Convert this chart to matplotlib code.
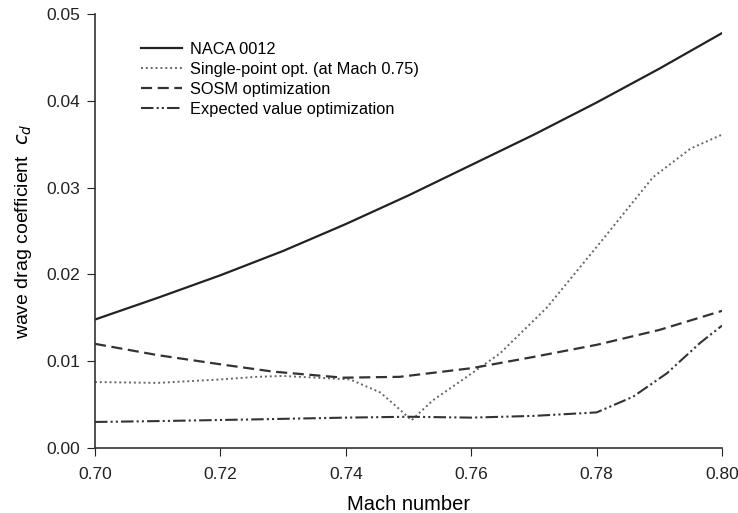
import matplotlib
matplotlib.use("Agg")
import matplotlib.pyplot as plt
import numpy as np

plt.rcParams['font.family'] = ['Liberation Sans', 'DejaVu Sans']

mach_naca = [0.70, 0.71, 0.72, 0.73, 0.74, 0.75, 0.76, 0.77, 0.78, 0.79, 0.80]
cd_naca = [0.0148, 0.0173, 0.0199, 0.0227, 0.0258, 0.0291, 0.0326, 0.0361, 0.0398, 0.0437, 0.0478]

mach_single = [0.70, 0.71, 0.72, 0.7258, 0.73, 0.7407, 0.7455, 0.7482, 0.7505, 0.7539, 0.7593,
               0.7646, 0.7721, 0.7805, 0.7890, 0.795, 0.80]
cd_single = [0.0076, 0.0075, 0.0079, 0.0082, 0.0083, 0.0079, 0.0064, 0.0047, 0.0032, 0.0055, 0.0082,
             0.0109, 0.0162, 0.0236, 0.0312, 0.0345, 0.0361]

mach_sosm = [0.70, 0.71, 0.7204, 0.7284, 0.7396, 0.7486, 0.7601, 0.77, 0.7801, 0.79, 0.80]
cd_sosm = [0.0120, 0.0107, 0.0096, 0.0088, 0.0081, 0.0082, 0.0092, 0.0105, 0.0119, 0.0136, 0.0158]

mach_exp = [0.70, 0.71, 0.7258, 0.74, 0.75, 0.76, 0.77, 0.78, 0.7858, 0.7912, 0.7965, 0.80]
cd_exp = [0.0030, 0.0031, 0.0033, 0.0035, 0.0036, 0.0035, 0.0037, 0.0041, 0.0059, 0.0086, 0.0121, 0.0141]

labels = ["NACA 0012", "Single-point opt. (at Mach 0.75)", "SOSM optimization",
          "Expected value optimization"]

fig = plt.figure(figsize=(7.38, 5.13), dpi=100)
ax = fig.add_axes([0.1287, 0.1267, 0.8496, 0.846])

ax.plot(mach_naca, cd_naca, color='#222222', lw=1.6, ls='-', label=labels[0])
ax.plot(mach_single, cd_single, color='#666666', lw=1.4, ls=(0, (1, 1.5)), label=labels[1])
ax.plot(mach_sosm, cd_sosm, color='#333333', lw=1.6, ls=(0, (5, 2.5)), label=labels[2])
ax.plot(mach_exp, cd_exp, color='#333333', lw=1.5, ls=(0, (6, 1.5, 1, 1.5, 1, 1.5)), label=labels[3])

ax.set_xlim(0.70, 0.80)
ax.set_ylim(0.0, 0.05)
ax.set_xticks([0.70, 0.72, 0.74, 0.76, 0.78, 0.80])
ax.set_xticklabels(["0.70", "0.72", "0.74", "0.76", "0.78", "0.80"])
ax.set_yticks([0.00, 0.01, 0.02, 0.03, 0.04, 0.05])
ax.set_yticklabels(["0.00", "0.01", "0.02", "0.03", "0.04", "0.05"])
ax.tick_params(direction='out', length=6, labelsize=12.5, colors='#222222')
ax.tick_params(axis='x', pad=8)
ax.tick_params(axis='y', pad=4.5)
for s in ['top', 'right']:
    ax.spines[s].set_visible(False)
for s in ['left', 'bottom']:
    ax.spines[s].set_color('#333333')
    ax.spines[s].set_linewidth(1.2)

ax.set_xlabel("Mach number", fontsize=14.5, labelpad=9)
ax.set_ylabel(r"wave drag coefficient  $c_d$", fontsize=14, labelpad=9)

leg = ax.legend(loc='upper left', bbox_to_anchor=(0.05, 0.97), frameon=False, fontsize=11.8,
                handlelength=2.5, handletextpad=0.5, labelspacing=0.3)

fig.savefig("out.png", dpi=100)
